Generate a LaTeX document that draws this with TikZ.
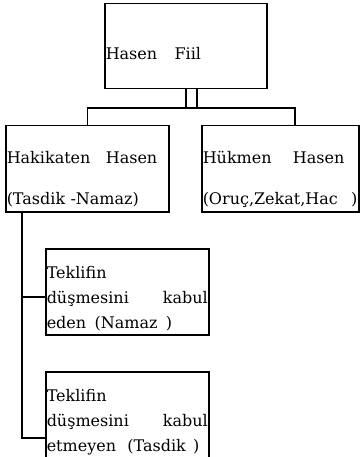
\documentclass[tikz,border=0pt]{standalone}
\usepackage{fontspec}
\setmainfont{DejaVu Serif}
\begin{document}
\begin{tikzpicture}[x=1pt,y=-1pt]
	\tikzset{box/.style={draw, line width=1.5pt, anchor=north west, inner xsep=1pt, inner ysep=0pt, align=left, font=\fontsize{16}{26}\selectfont}}
	\tikzset{wide/.append style={font=\fontsize{16}{41}\selectfont, text height=38pt, text depth=48pt}}
	\tikzset{leaf/.append style={font=\fontsize{16}{25}\selectfont, text width=161pt, text height=30pt, text depth=56pt}}
	\tikzset{link/.style={line width=1.5pt}}
	\useasboundingbox (0,0) rectangle (359,457);

	\node[box, text width=160pt, text height=56pt, text depth=29pt]	(0) at (104,3)	{Hasen\hspace{12pt} Fiil};
	\node[box, wide, text width=161pt]	(1) at (5,125)		{Hakikaten\hspace{10pt} Hasen\\(Tasdik -Namaz)};
	\node[box, wide, text width=155pt]	(2) at (201,125)	{Hükmen\hspace{16pt} Hasen\\\mbox{(Oruç,Zekat,Hac\hspace{8pt} )}};
	\node[box, leaf]	(3) at (45,248)	{Teklifin\\düşmesini\hfill kabul\hspace*{5pt}\\eden\hspace{3pt} (Namaz\hspace{3pt} )};
	\node[box, leaf]	(4) at (45,371)	{Teklifin\\düşmesini\hfill kabul\hspace*{5pt}\\etmeyen\hspace{6pt} (Tasdik\hspace{2pt} )};

	\coordinate (a) at (87,108);
	\coordinate (b) at (295,108);
	\coordinate (c) at (22,297);
	\coordinate (d) at (22,438);

	\draw[link] (0.south) -- (0.south |- a);
	\draw[link] ([xshift=11pt]0.south) -- ([xshift=11pt]0.south |- a);
	\draw[link] (1.north) -- (1.north |- a) -- (b) -- (b |- 2.north);
	\draw[link] (1.south -| d) -- (d) -- (d -| 4.west);
	\draw[link] (c) -- (c -| 3.west);
\end{tikzpicture}
\end{document}
